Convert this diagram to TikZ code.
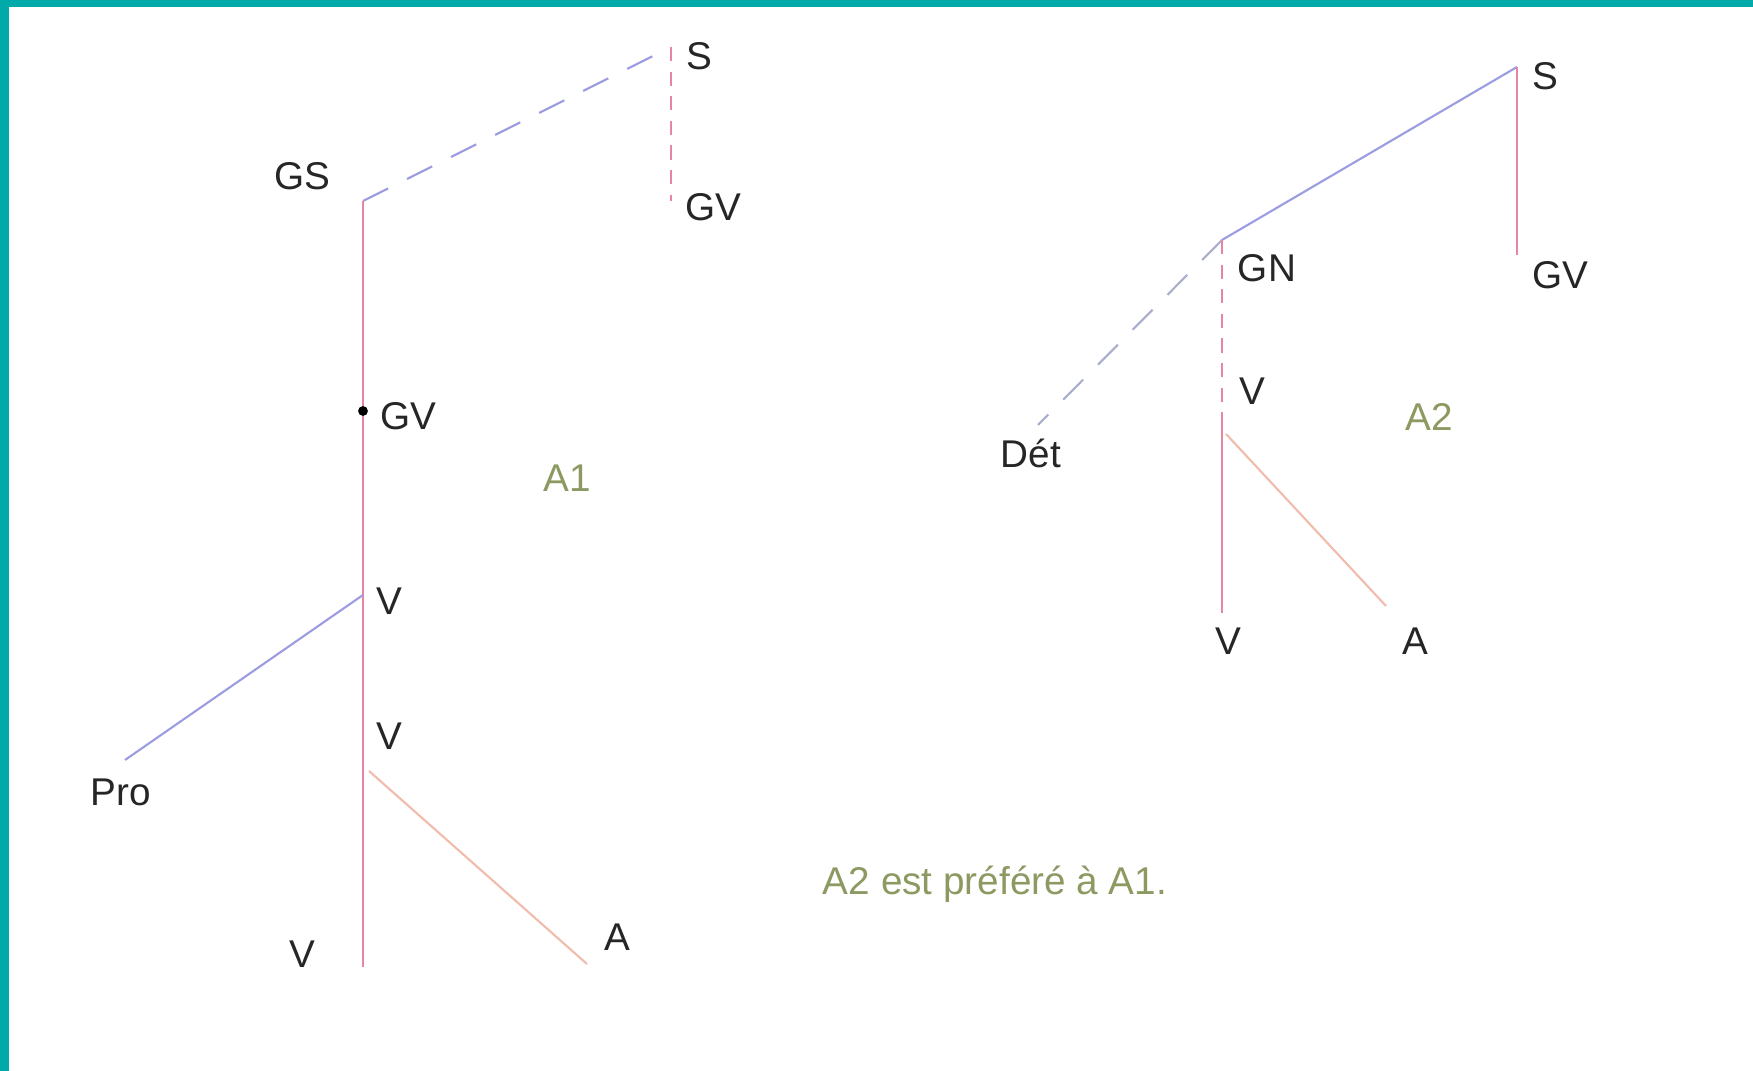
\documentclass[tikz,border=0pt]{standalone}
\usepackage{fontspec}
\setmainfont{Liberation Sans}
\definecolor{edgeteal}{HTML}{00AAAA}
\definecolor{stempink}{HTML}{E884A4}
\definecolor{armblue}{HTML}{9C9CE2}
\definecolor{twigsalmon}{HTML}{F2BCAC}
\definecolor{dashgrey}{HTML}{A8AECC}
\definecolor{tagolive}{HTML}{8C9A62}

\begin{document}
\begin{tikzpicture}[x=0.01cm, y=-0.01cm,
  lbl/.style={font=\fontsize{11}{13}\selectfont, text=black!85, inner sep=0pt},
  tag/.style={lbl, text=tagolive},
  stem/.style={draw=stempink, line width=0.6pt},
  arm/.style={draw=armblue, line width=0.6pt},
  twig/.style={draw=twigsalmon, line width=0.6pt},
  longdash/.style={dash pattern=on 8pt off 6pt},
  shortdash/.style={dash pattern=on 4pt off 3pt}]
\fill[white] (0,0) rectangle (1753,1071);
\fill[edgeteal] (0,0) rectangle (1753,7);
\fill[edgeteal] (0,0) rectangle (9,1071);

\coordinate (lS) at (671,47);
\coordinate (lGS) at (363,201);
\coordinate (lGVend) at (671,201);
\coordinate (lbot) at (363,967);
\coordinate (lGV) at (363,411);
\coordinate (lV) at (363,595);
\coordinate (lPro) at (125,760);
\coordinate (ltwig) at (369,771);
\coordinate (lA) at (587,964);

\node[lbl] (tS) at (699,56) {S};
\node[lbl] (tGS) at (302,176) {GS};
\node[lbl] (tGVa) at (713,207) {GV};
\node[lbl] (tGVb) at (408,416) {GV};
\node[tag] (tA1) at (567,478) {A1};
\node[lbl] (tVa) at (389,601) {V};
\node[lbl] (tPro) at (121,792) {Pro};
\node[lbl] (tVb) at (389,736) {V};
\node[lbl] (tA) at (617,937) {A};
\node[lbl] (tVc) at (302,954) {V};

\draw[arm, longdash] (lGS) -- (lS);
\draw[stem, shortdash] (lS) -- (lGVend);
\draw[stem] (lGS) -- (lbot);
\fill (lGV) circle (1.4pt);
\draw[arm] (lV) -- (lPro);
\draw[twig] (ltwig) -- (lA);

\coordinate (rS) at (1517,67);
\coordinate (rGVend) at (1517,255);
\coordinate (rGN) at (1222,240);
\coordinate (rDet) at (1038,425);
\coordinate (rV) at (1222,425);
\coordinate (rbot) at (1222,613);
\coordinate (rtwig) at (1226,434);
\coordinate (rA) at (1386,606);

\node[lbl] (uS) at (1545,76) {S};
\node[lbl] (uGV) at (1560,275) {GV};
\node[lbl] (uGN) at (1267,268) {GN};
\node[lbl] (uDet) at (1031,453) {Dét};
\node[lbl] (uVa) at (1252,391) {V};
\node[tag] (uA2) at (1429,417) {A2};
\node[lbl] (uVb) at (1228,641) {V};
\node[lbl] (uA) at (1415,641) {A};

\draw[arm] (rS) -- (rGN);
\draw[stem] (rS) -- (rGVend);
\draw[draw=dashgrey, line width=0.6pt, longdash] (rGN) -- (rDet);
\draw[stem, shortdash] (rGN) -- (rV);
\draw[stem] (rV) -- (rbot);
\draw[twig] (rtwig) -- (rA);

\node[tag] (note) at (995,884) {A2 est préféré à A1.};
\end{tikzpicture}
\end{document}
